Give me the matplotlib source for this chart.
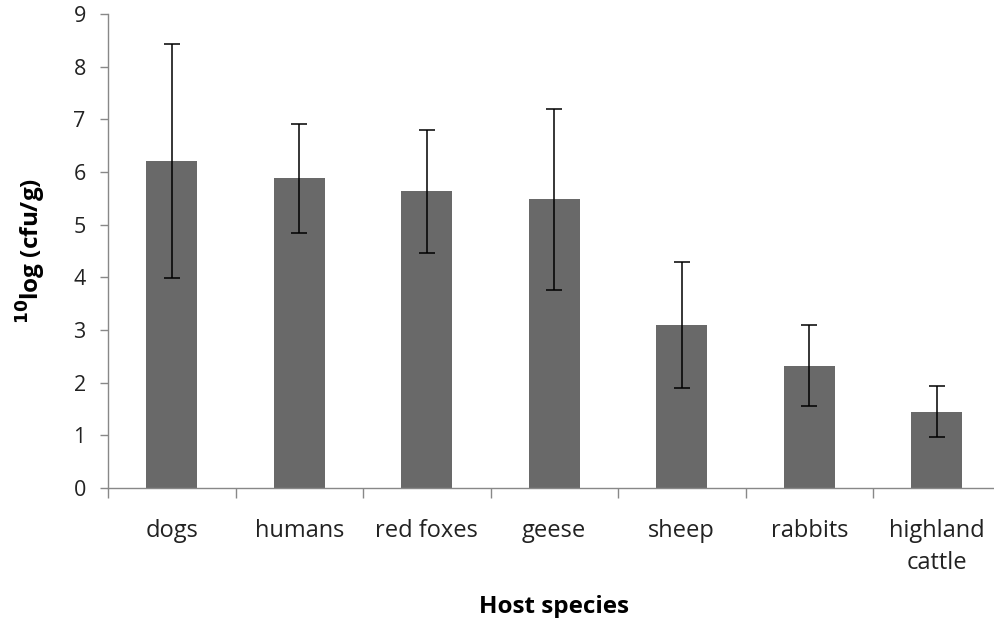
import matplotlib
matplotlib.use("Agg")
import matplotlib.pyplot as plt
import numpy as np

categories = ["dogs", "humans", "red foxes", "geese", "sheep", "rabbits", "highland\ncattle"]
means = [6.21, 5.88, 5.63, 5.48, 3.10, 2.32, 1.45]
errors = [2.22, 1.04, 1.17, 1.72, 1.20, 0.77, 0.48]
yticks = [0, 1, 2, 3, 4, 5, 6, 7, 8, 9]

plt.rcParams['font.family'] = ['Open Sans', 'DejaVu Sans']

W, H = 994, 618
fig = plt.figure(figsize=(W/100, H/100), dpi=100)
left, right, bottom, top = 108, 1000.5, 488, 14
ax = fig.add_axes([left/W, 1 - bottom/H, (right-left)/W, (bottom-top)/H])

x = np.arange(len(categories))
ax.bar(x, means, width=0.40, color='#696969', zorder=2)
ax.errorbar(x, means, yerr=errors, fmt='none', ecolor='black', elinewidth=1.1,
            capsize=6, capthick=1.1, zorder=3)

ax.set_xlim(-0.5, len(categories) - 0.5)
ax.set_ylim(0, 9)
ax.set_yticks(yticks)
ax.set_yticklabels([str(t) for t in yticks], fontsize=15.5, color='#222222')

ax.set_xticks(x)
ax.set_xticklabels(categories, fontsize=17, color='#222222', linespacing=1.45)
ax.set_xticks(np.arange(len(categories)) - 0.5, minor=True)
ax.tick_params(axis='x', which='major', length=0, pad=22)
ax.tick_params(axis='x', which='minor', length=7, color='#888888', width=1)
ax.tick_params(axis='y', length=6, color='#888888', width=1, pad=10)

for s in ['top', 'right']:
    ax.spines[s].set_visible(False)
for s in ['left', 'bottom']:
    ax.spines[s].set_color('#888888')
    ax.spines[s].set_linewidth(1)

ax.set_xlabel('Host species', fontsize=17.5, fontweight='bold', labelpad=15)
ax.set_ylabel(r'$^{\mathbf{10}}$log (cfu/g)', fontsize=17.5, fontweight='bold', labelpad=18)

fig.savefig('out.png', dpi=100)
